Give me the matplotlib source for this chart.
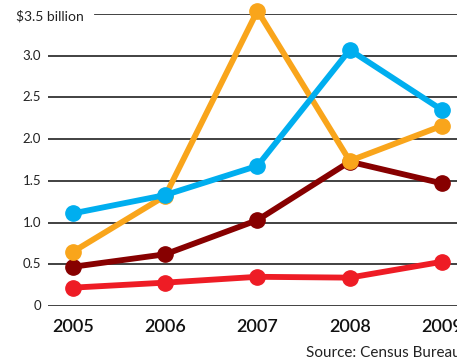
import matplotlib.pyplot as plt

plt.rcParams['font.family'] = ['Lato', 'DejaVu Sans']

years = [2005, 2006, 2007, 2008, 2009]
blue_vals = [1.11, 1.33, 1.68, 3.07, 2.35]
orange_vals = [0.65, 1.32, 3.54, 1.74, 2.16]
darkred_vals = [0.47, 0.62, 1.03, 1.73, 1.47]
red_vals = [0.22, 0.28, 0.35, 0.34, 0.53]
grid_vals = [0, 0.5, 1.0, 1.5, 2.0, 2.5, 3.0]
tick_labels = ['0', '0.5', '1.0', '1.5', '2.0', '2.5', '3.0']

W, H = 457, 362
fig = plt.figure(figsize=(W / 100, H / 100), dpi=100)
ax = fig.add_axes([48 / W, (H - 306) / H, 1 - 48 / W, 292 / H])
ax.set_xlim(2004.729, 2009.163)
ax.set_ylim(0, 3.5)
ax.axis('off')

# gridlines
for g in grid_vals:
    ax.axhline(g, color='#333333', lw=1.3, zorder=1)
ax.axhline(3.5, xmin=(95 - 48) / (W - 48), color='#333333', lw=1.3, zorder=1)

# series (orange drawn under blue where they cross)
series = [
    (red_vals, '#EE1C25'),
    (darkred_vals, '#870000'),
    (orange_vals, '#F9A51B'),
    (blue_vals, '#00AEEF'),
]
for vals, col in series:
    ax.plot(years, vals, color=col, lw=4.2, marker='o', ms=11,
            clip_on=False, zorder=3, solid_capstyle='round')

# y tick labels
for g, lab in zip(grid_vals, tick_labels):
    ax.text(2004.729 - 7 / 92.25, g, lab, ha='right', va='center',
            fontsize=9.5, color='#222222')
fig.text(16 / W, 1 - 16 / H, '$3.5 billion', ha='left', va='center',
         fontsize=10, color='#222222')

# x labels (the last one runs off the edge, as in the original)
for yr in years:
    fig.text((48 + (yr - 2004.729) * 92.25) / W, 1 - 327 / H, str(yr),
             ha='center', va='center', fontsize=13, fontweight='semibold',
             color='#111111')

fig.text(306 / W, 1 - 353 / H, 'Source: Census Bureau', ha='left', va='center',
         fontsize=11, color='#222222')

fig.savefig('out.png', dpi=100, facecolor='white')
